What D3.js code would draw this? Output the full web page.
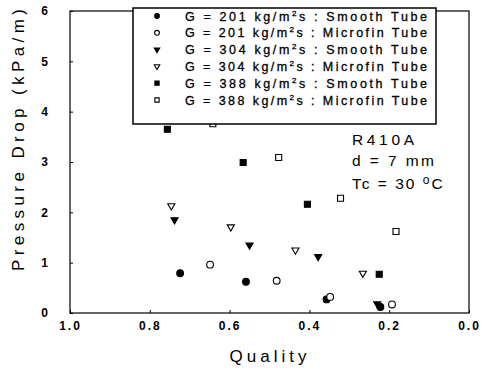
<!DOCTYPE html>
<html><head><meta charset="utf-8">
<script src="https://cdn.jsdelivr.net/npm/d3@7"></script>
<style>
html,body{margin:0;padding:0;background:#fff;}
svg{display:block;}
text{font-family:"Liberation Sans",Arial,sans-serif;fill:#000;}
</style></head>
<body>
<script>
// ---- data ----
const xTicks = [1.0, 0.8, 0.6, 0.4, 0.2, 0.0];
const yTicks = [0, 1, 2, 3, 4, 5, 6];
const seriesNames = [
  "G = 201 kg/m²s : Smooth Tube",
  "G = 201 kg/m²s : Microfin Tube",
  "G = 304 kg/m²s : Smooth Tube",
  "G = 304 kg/m²s : Microfin Tube",
  "G = 388 kg/m²s : Smooth Tube",
  "G = 388 kg/m²s : Microfin Tube"
];
const seriesSymbols = ["circle", "circle", "triangle", "triangle", "square", "square"];
const seriesFilled = [true, false, true, false, true, false];
const smooth201 = [[0.724, 0.79], [0.559, 0.62], [0.357, 0.27], [0.222, 0.12]];
const micro201  = [[0.649, 0.96], [0.482, 0.64], [0.348, 0.32], [0.193, 0.17]];
const smooth304 = [[0.738, 1.85], [0.550, 1.35], [0.378, 1.12], [0.230, 0.18]];
const micro304  = [[0.746, 2.13], [0.597, 1.71], [0.435, 1.25], [0.266, 0.79]];
const smooth388 = [[0.756, 3.65], [0.566, 2.99], [0.405, 2.16], [0.225, 0.77]];
const micro388  = [[0.642, 3.76], [0.477, 3.09], [0.322, 2.28], [0.183, 1.62]];
const seriesData = [smooth201, micro201, smooth304, micro304, smooth388, micro388];

const W = 493, H = 368;
const svg = d3.select("body").append("svg").attr("width", W).attr("height", H);

const x = d3.scaleLinear().domain([1, 0]).range([70, 469]);
const y = d3.scaleLinear().domain([0, 6]).range([313, 11]);

// frame
svg.append("rect").attr("x", x(1)).attr("y", y(6))
  .attr("width", x(0) - x(1)).attr("height", y(0) - y(6))
  .attr("fill", "none").attr("stroke", "#000").attr("stroke-width", 1.2);

// axes
const xAxis = d3.axisBottom(x).tickValues(xTicks).tickSize(-3).tickPadding(8)
  .tickFormat(d3.format(".1f"));
const gx = svg.append("g").attr("transform", `translate(0,${y(0)})`).call(xAxis);
gx.select(".domain").remove();
gx.selectAll("text").attr("font-size", 12).attr("font-weight", "bold")
  .style("letter-spacing", "2px").attr("font-family", "Liberation Sans, Arial, sans-serif");

const yAxis = d3.axisLeft(y).tickValues(yTicks).tickSize(-3).tickPadding(22)
  .tickFormat(d3.format("d"));
const gy = svg.append("g").attr("transform", `translate(${x(1)},0)`).call(yAxis);
gy.select(".domain").remove();
gy.selectAll("text").attr("font-size", 12).attr("font-weight", "bold")
  .attr("font-family", "Liberation Sans, Arial, sans-serif");

// axis titles
svg.append("text").attr("x", 268).attr("y", 362).attr("text-anchor", "middle")
  .attr("font-size", 17).attr("textLength", 77).attr("lengthAdjust", "spacing")
  .text("Quality");
svg.append("text").attr("transform", "translate(24,140) rotate(-90)")
  .attr("text-anchor", "middle").attr("font-size", 17)
  .attr("textLength", 262).attr("lengthAdjust", "spacing")
  .text("Pressure Drop (kPa/m)");

// symbols
function symbolPath(kind, size) {
  if (kind === "circle") return d3.symbol(d3.symbolCircle, size)();
  if (kind === "square") return d3.symbol(d3.symbolSquare, size)();
  return d3.symbol(d3.symbolTriangle, size)();
}
function drawMarker(g, kind, filled, cx, cy, size) {
  return g.append("path").attr("d", symbolPath(kind, size))
    .attr("transform", `translate(${cx},${cy})` + (kind === "triangle" ? " rotate(180)" : ""))
    .attr("fill", filled ? "#000" : "#fff")
    .attr("stroke", "#000").attr("stroke-width", 1.1);
}

const marks = svg.append("g");
seriesData.forEach((data, i) => {
  data.forEach(d => {
    drawMarker(marks, seriesSymbols[i], seriesFilled[i], x(d[0]), y(d[1]),
      seriesSymbols[i] === "triangle" ? 22 : 36);
  });
});

// legend
const lg = svg.append("g");
lg.append("rect").attr("x", 133).attr("y", 8).attr("width", 303).attr("height", 116)
  .attr("fill", "#fff").attr("stroke", "#000").attr("stroke-width", 1.5);
seriesNames.forEach((name, i) => {
  const cy = 16 + i * 16.8;
  drawMarker(lg, seriesSymbols[i], seriesFilled[i], 157, cy,
    seriesSymbols[i] === "triangle" ? 13 : 18);
  const t = lg.append("text").attr("x", 185).attr("y", cy + 4.5).attr("font-size", 12.5)
    .attr("textLength", 242).attr("lengthAdjust", "spacing")
    .style("stroke", "#000").style("stroke-width", 0.3);
  const parts = name.split("²");
  t.append("tspan").text(parts[0]);
  t.append("tspan").attr("dy", -5).attr("font-size", 8).text("2");
  t.append("tspan").attr("dy", 5).text(parts[1]);
});

// annotation
svg.append("text").attr("x", 352).attr("y", 145).attr("font-size", 15.5)
  .attr("textLength", 62).attr("lengthAdjust", "spacing").text("R410A");
svg.append("text").attr("x", 352).attr("y", 166).attr("font-size", 15.5)
  .attr("textLength", 82).attr("lengthAdjust", "spacing").text("d = 7 mm");
const tc = svg.append("text").attr("x", 352).attr("y", 189).attr("font-size", 15.5);
tc.append("tspan").text("Tc = 30 ").style("letter-spacing", "2px");
tc.append("tspan").attr("dy", -5).attr("font-size", 12).text("o");
tc.append("tspan").attr("dy", 5).attr("dx", 2).text("C");
</script>
</body></html>
